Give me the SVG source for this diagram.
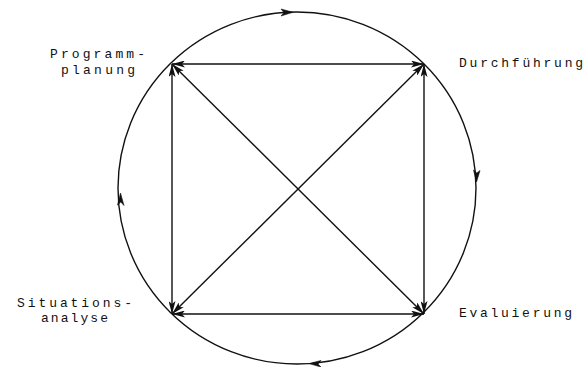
<svg xmlns="http://www.w3.org/2000/svg" width="586" height="367" viewBox="0 0 586 367">
<style>
.ln{stroke:#111;stroke-width:1.4;fill:none}
.lbl{font-family:"Liberation Mono","DejaVu Sans Mono",monospace;font-size:13px;fill:#111}
.ah{fill:#111;stroke:#111;stroke-width:0.6}
</style>
<defs>
<marker id="a" viewBox="0 0 13 7" refX="13" refY="3.5" markerWidth="13" markerHeight="7" markerUnits="userSpaceOnUse" orient="auto-start-reverse">
<path d="M0,0 L13,3.5 L0,7 L3,3.5 z" fill="#111"/>
</marker>
</defs>
<rect width="586" height="367" fill="#fff"/>
<g id="cycle">
<ellipse class="ln" cx="297" cy="188" rx="179" ry="176"/>
<path class="ah" d="M293,12.3 L281,9 L284,12.5 L281,16 z"/>
<path class="ah" d="M476.5,182 L473.5,170 L476.8,173 L480,170.5 z"/>
<path class="ah" d="M309,363.6 L321,360.5 L318,364 L321,367 z"/>
<path class="ah" d="M120.5,193 L117.5,205 L120.8,202 L124,205.5 z"/>
</g>
<g id="connectors">
<line class="ln" x1="172" y1="64" x2="424" y2="64" marker-start="url(#a)" marker-end="url(#a)"/>
<line class="ln" x1="172" y1="64" x2="172" y2="314" marker-start="url(#a)" marker-end="url(#a)"/>
<line class="ln" x1="424" y1="64" x2="424" y2="314" marker-start="url(#a)" marker-end="url(#a)"/>
<line class="ln" x1="172" y1="314" x2="424" y2="314" marker-start="url(#a)" marker-end="url(#a)"/>
<line class="ln" x1="172" y1="64" x2="424" y2="314" marker-start="url(#a)" marker-end="url(#a)"/>
<line class="ln" x1="424" y1="64" x2="172" y2="314" marker-start="url(#a)" marker-end="url(#a)"/>
</g>
<g id="programmplanung">
<text class="lbl" x="50" y="58" textLength="95" lengthAdjust="spacing">Programm-</text>
<text class="lbl" x="61" y="74" textLength="74" lengthAdjust="spacing">planung</text>
</g>
<g id="durchfuehrung">
<text class="lbl" x="459" y="67" textLength="124" lengthAdjust="spacing">Durchführung</text>
</g>
<g id="situationsanalyse">
<text class="lbl" x="17" y="307" textLength="115" lengthAdjust="spacing">Situations-</text>
<text class="lbl" x="41" y="322" textLength="67" lengthAdjust="spacing">analyse</text>
</g>
<g id="evaluierung">
<text class="lbl" x="459" y="317" textLength="113" lengthAdjust="spacing">Evaluierung</text>
</g>
</svg>
